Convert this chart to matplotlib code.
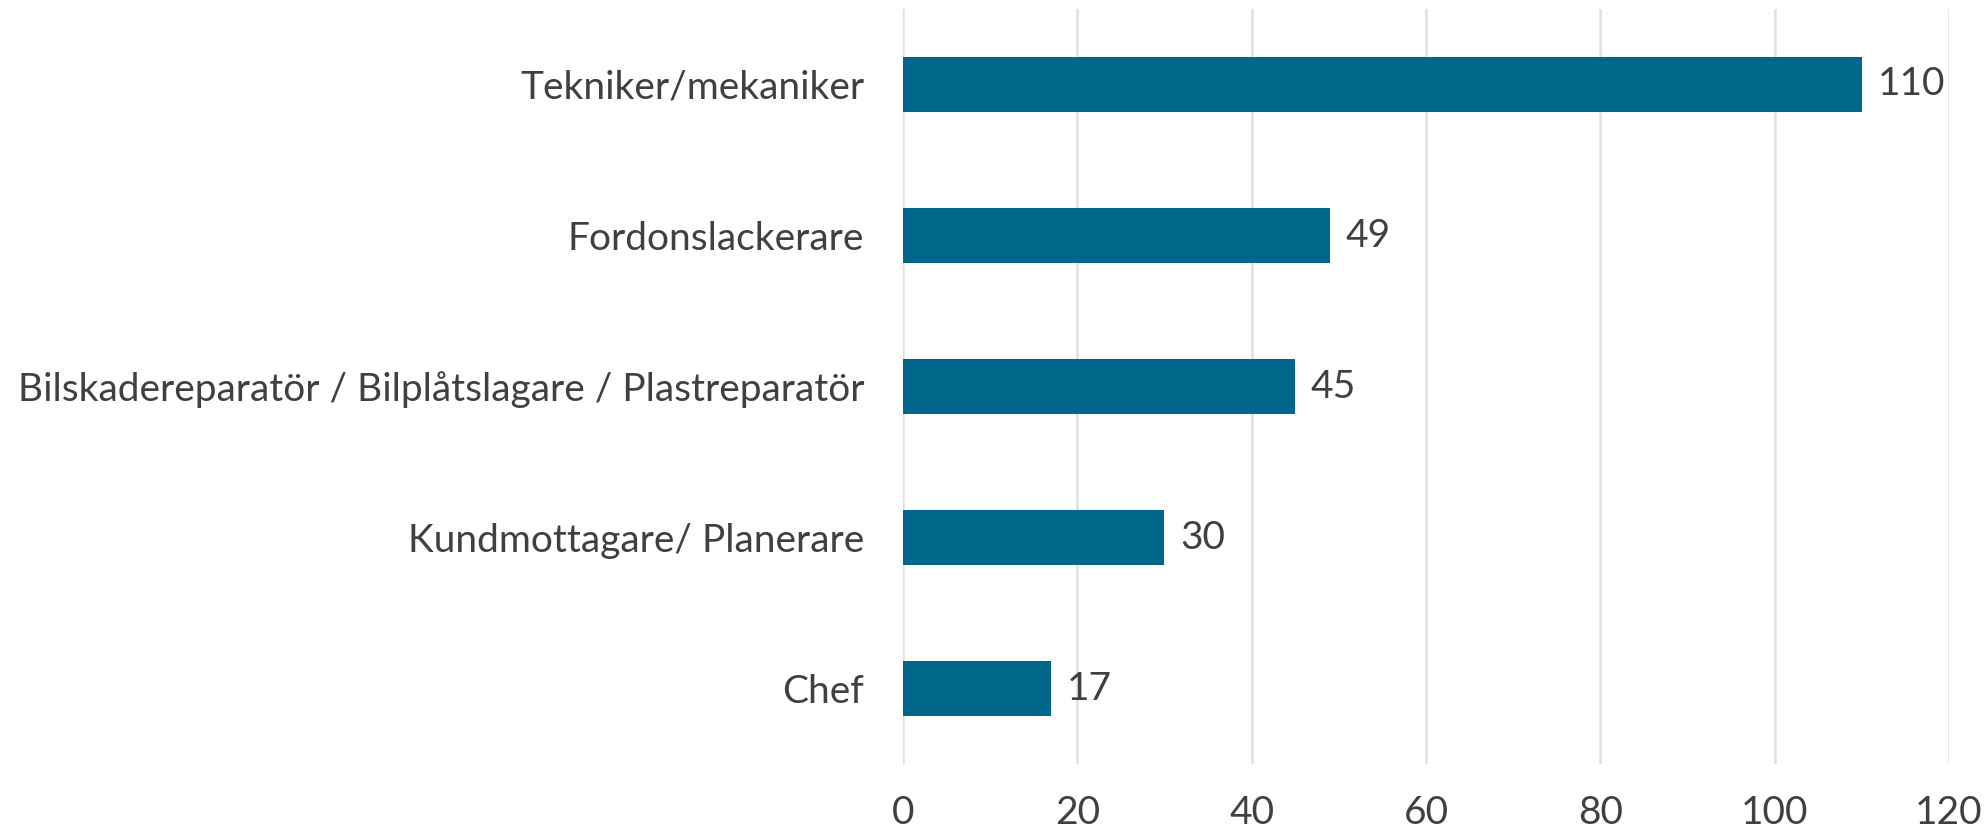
import matplotlib
matplotlib.use("Agg")
import matplotlib.pyplot as plt

categories = [
    "Tekniker/mekaniker",
    "Fordonslackerare",
    "Bilskadereparatör / Bilplåtslagare / Plastreparatör",
    "Kundmottagare/ Planerare",
    "Chef",
]
values = [110, 49, 45, 30, 17]
xticks = [0, 20, 40, 60, 80, 100, 120]

BAR_COLOR = "#00668A"
TEXT_COLOR = "#404040"
GRID_COLOR = "#e0e0e0"

plt.rcParams["font.family"] = ["Lato", "DejaVu Sans"]

fig = plt.figure(figsize=(19.88, 8.33), dpi=100)
ax = fig.add_axes([0.4542, 0.0828, 0.5262, 0.9064])

ypos = list(range(len(categories)))
ax.barh(ypos, values, height=0.36, color=BAR_COLOR, zorder=3)

for y, v in zip(ypos, values):
    ax.text(v + 1.8, y, str(v), va="center", ha="left", fontsize=28, color=TEXT_COLOR)

ax.set_ylim(len(categories) - 0.5, -0.5)
ax.set_xlim(0, 120)
ax.set_yticks(ypos)
ax.set_yticklabels(categories, fontsize=28, color=TEXT_COLOR)
ax.set_xticks(xticks)
ax.set_xticklabels([str(t) for t in xticks], fontsize=28, color=TEXT_COLOR)
ax.tick_params(axis="both", length=0)
ax.tick_params(axis="y", pad=28)
ax.tick_params(axis="x", pad=22)

ax.grid(axis="x", color=GRID_COLOR, linewidth=1.8, zorder=0)
for spine in ax.spines.values():
    spine.set_visible(False)

fig.savefig("out.png", dpi=100)
